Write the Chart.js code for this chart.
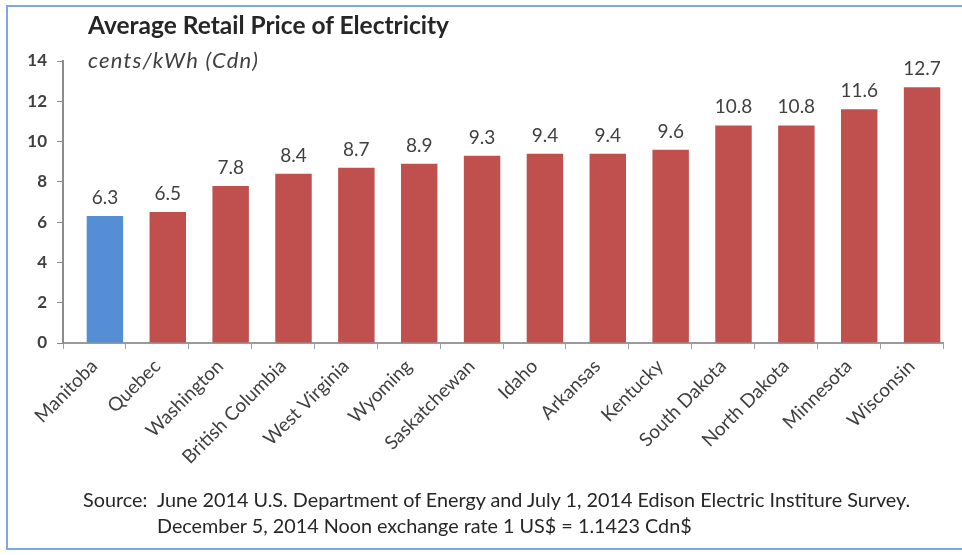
<!DOCTYPE html>
<html>
<head>
<meta charset="utf-8">
<script src="https://cdn.jsdelivr.net/npm/chart.js@4"></script>
<style>
  html, body { margin: 0; padding: 0; background: #fff; }
  #wrap { position: relative; width: 962px; height: 555px; overflow: hidden; font-family: Lato, "Open Sans", sans-serif; }
  #frame { position: absolute; left: 6px; top: 5px; width: 970px; height: 545px; border: 2px solid #7fa9dd; box-sizing: border-box; }
  #chart { position: absolute; left: 0; top: 0; }
  .title { position: absolute; left: 88px; top: 10px; font-size: 24.5px; line-height: 1.2; font-weight: bold; color: #262626; }
  .unit { position: absolute; left: 88px; top: 47px; font-size: 22px; line-height: 1.2; letter-spacing: 1.2px; font-style: italic; color: #404040; }
  .source { position: absolute; left: 83px; font-size: 19.8px; line-height: 1.2; color: #262626; white-space: pre; }
</style>
</head>
<body>
<div id="wrap">
  <div id="frame"></div>
  <canvas id="chart" width="962" height="555"></canvas>
  <div class="title">Average Retail Price of Electricity</div>
  <div class="unit">cents/kWh (Cdn)</div>
  <div class="source" style="top:488px">Source:  June 2014 U.S. Department of Energy and July 1, 2014 Edison Electric Institure Survey.</div>
  <div class="source" style="top:514px; left:157px">December 5, 2014 Noon exchange rate 1 US$ = 1.1423 Cdn$</div>
</div>
<script>
// Chart data
const regions = ['Manitoba', 'Quebec', 'Washington', 'British Columbia', 'West Virginia', 'Wyoming',
  'Saskatchewan', 'Idaho', 'Arkansas', 'Kentucky', 'South Dakota', 'North Dakota', 'Minnesota', 'Wisconsin'];
const prices = [6.3, 6.5, 7.8, 8.4, 8.7, 8.9, 9.3, 9.4, 9.4, 9.6, 10.8, 10.8, 11.6, 12.7];
const yTicks = [0, 2, 4, 6, 8, 10, 12, 14];

const barColors = regions.map(r => r === 'Manitoba' ? '#558ed5' : '#c0504d');
const fontFamily = 'Lato, "Open Sans", sans-serif';

// in the original the bars sit a little right of the category centres
const barShift = 10.5;

// shift bars and draw value labels above each one
const barsAndLabels = {
  id: 'barsAndLabels',
  beforeDatasetsDraw(chart) {
    chart.ctx.save();
    chart.ctx.translate(barShift, 0);
  },
  afterDatasetsDraw(chart) {
    const c = chart.ctx;
    const meta = chart.getDatasetMeta(0);
    c.font = '19px ' + fontFamily;
    c.fillStyle = '#404040';
    c.textAlign = 'center';
    c.textBaseline = 'alphabetic';
    meta.data.forEach((bar, i) => {
      c.fillText(prices[i].toFixed(1), bar.x, bar.y - 12);
    });
    c.restore();
  }
};

new Chart(document.getElementById('chart'), {
  type: 'bar',
  data: {
    labels: regions,
    datasets: [{
      data: prices,
      backgroundColor: barColors,
      barPercentage: 0.58,
      categoryPercentage: 1
    }]
  },
  options: {
    responsive: false,
    animation: false,
    layout: { padding: { left: 0, top: 61, right: 19, bottom: 0 } },
    plugins: { legend: { display: false }, tooltip: { enabled: false } },
    scales: {
      x: {
        afterFit: s => { s.height = 212; },
        grid: { drawOnChartArea: false, drawTicks: true, tickLength: 6, color: '#a0a0a0', offset: true },
        border: { color: '#9a9a9a', width: 2 },
        ticks: {
          minRotation: 45, maxRotation: 45, autoSkip: false, padding: 6,
          color: '#404040', font: { family: fontFamily, size: 19 }
        }
      },
      y: {
        min: 0, max: 14,
        afterFit: s => { s.width = 63; },
        afterBuildTicks: s => { s.ticks = yTicks.map(v => ({ value: v })); },
        grid: { drawOnChartArea: false, drawTicks: true, tickLength: 6, color: '#8c8c8c' },
        border: { color: '#8c8c8c', width: 2 },
        ticks: {
          padding: 10, color: '#404040',
          font: { family: fontFamily, size: 17, weight: 'bold' }
        }
      }
    }
  },
  plugins: [barsAndLabels]
});
</script>
</body>
</html>
